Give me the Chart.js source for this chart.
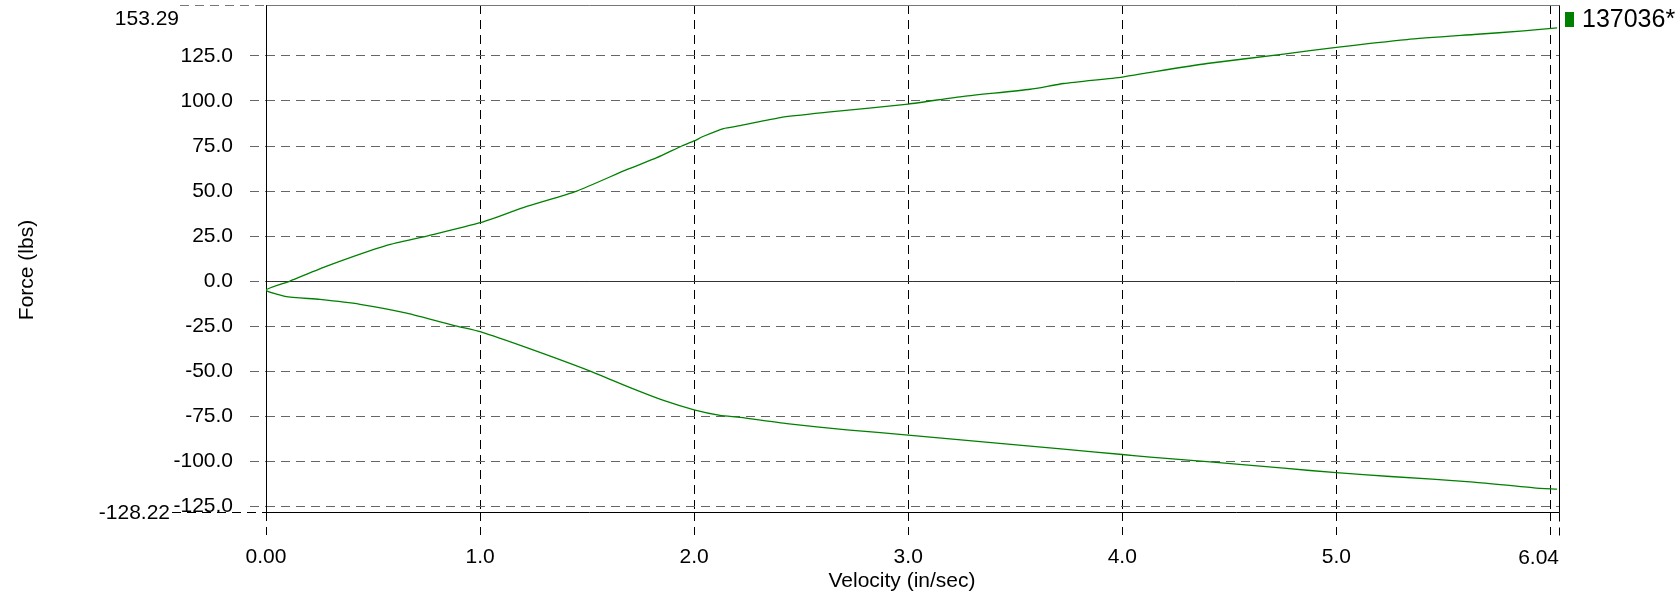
<!DOCTYPE html>
<html>
<head>
<meta charset="utf-8">
<script src="https://cdn.jsdelivr.net/npm/chart.js@4/dist/chart.umd.min.js"></script>
<style>
html,body{margin:0;padding:0;background:#fff;}
#wrap{width:1680px;height:595px;}
</style>
</head>
<body>
<div id="wrap"><canvas id="c" width="1680" height="595"></canvas></div>
<script>
// ---- data ----
const seriesName = "137036*";
const velocity = [
  6.031, 5.923, 5.642, 5.252, 5.0, 4.754, 4.396, 4.131, 4.0, 3.726, 3.414, 3.0, 2.713, 2.433,
  2.215, 2.121, 2.0, 1.857, 1.701, 1.514, 1.218, 1.0, 0.891, 0.657, 0.439, 0.252, 0.089, 0.0,
  0.112, 0.284, 0.564, 0.751, 1.0, 1.218, 1.452, 1.685, 1.826, 1.942, 2.0, 2.044, 2.137, 2.215,
  2.402, 2.636, 3.0, 3.259, 3.570, 3.726, 4.0, 4.131, 4.396, 4.754, 5.0, 5.330, 5.642, 5.875, 6.031
];
const force = [
  -115.5, -114.8, -111.6, -108.5, -106.4, -103.9, -100.3, -97.8, -96.3, -93.3, -90.0, -85.5, -82.6, -79.2,
  -75.7, -74.6, -71.5, -66.3, -59.2, -50.0, -37.0, -28.1, -25.0, -17.8, -12.9, -10.2, -8.5, -5.0,
  0.0, 8.3, 19.8, 25.0, 32.4, 41.5, 50.0, 61.9, 68.5, 75.0, 77.8, 80.4, 84.7, 86.3,
  90.8, 93.9, 98.3, 102.6, 106.5, 109.7, 113.3, 115.9, 120.8, 126.0, 129.8, 134.1, 136.9, 138.9, 140.6
];
const xMin = 0, xMax = 6.04;
const yMin = -128.22, yMax = 153.29;
const xTicks = [0, 1, 2, 3, 4, 5, 6];
const xTickLabels = ["0.00", "1.0", "2.0", "3.0", "4.0", "5.0", ""];
const xEndLabel = "6.04";
const yTicks = [-125, -100, -75, -50, -25, 0, 25, 50, 75, 100, 125];
const yTickLabels = ["-125.0", "-100.0", "-75.0", "-50.0", "-25.0", "0.0", "25.0", "50.0", "75.0", "100.0", "125.0"];
const yMaxLabel = "153.29", yMinLabel = "-128.22";
const xTitle = "Velocity (in/sec)";
const yTitle = "Force (lbs)";
const lineColor = "#008000";

const FONT = "'Liberation Sans', Arial, sans-serif";

const points = velocity.map((v, i) => ({x: v, y: force[i]}));

const extras = {
  id: 'extras',
  beforeDatasetsDraw(chart) {
    const {ctx, chartArea: a, scales: {x, y}} = chart;
    ctx.save();
    // zero line (solid)
    const y0 = Math.round(y.getPixelForValue(0)) + 0.5;
    ctx.strokeStyle = '#333'; ctx.lineWidth = 1; ctx.setLineDash([]);
    ctx.beginPath(); ctx.moveTo(a.left, y0); ctx.lineTo(a.right, y0); ctx.stroke();
    // frame
    const l = Math.round(a.left) + 0.5, r = Math.round(x.getPixelForValue(xMax)) + 0.5;
    const t = Math.round(y.getPixelForValue(yMax)) + 0.5, b = Math.round(y.getPixelForValue(yMin)) + 0.5;
    ctx.strokeStyle = '#777';
    ctx.beginPath(); ctx.moveTo(l, t); ctx.lineTo(r, t); ctx.stroke();
    ctx.strokeStyle = '#000';
    ctx.beginPath(); ctx.moveTo(l, t); ctx.lineTo(l, b); ctx.lineTo(r, b); ctx.lineTo(r, t); ctx.stroke();
    // extended dashed lines for axis limits
    ctx.setLineDash([9, 6]);
    ctx.strokeStyle = '#777';
    ctx.beginPath(); ctx.moveTo(180, t); ctx.lineTo(l, t); ctx.stroke();
    ctx.strokeStyle = '#000';
    ctx.beginPath(); ctx.moveTo(172, b); ctx.lineTo(l, b); ctx.stroke();
    ctx.beginPath(); ctx.moveTo(r, b); ctx.lineTo(r, b + 23); ctx.stroke();
    ctx.setLineDash([]);
    // limit labels
    ctx.fillStyle = '#000';
    ctx.font = '21px ' + FONT;
    ctx.textBaseline = 'middle';
    ctx.textAlign = 'right';
    ctx.fillText(yMaxLabel, 179, y.getPixelForValue(yMax) + 14);
    ctx.fillText(yMinLabel, 170, y.getPixelForValue(yMin) + 1);
    ctx.fillText(xEndLabel, x.getPixelForValue(xMax), 558);
    // axis titles
    ctx.textAlign = 'center';
    ctx.textBaseline = 'alphabetic';
    ctx.fillText(xTitle, 902, 587);
    ctx.save();
    ctx.translate(33, 270);
    ctx.rotate(-Math.PI / 2);
    ctx.fillText(yTitle, 0, 0);
    ctx.restore();
    // legend
    ctx.fillStyle = lineColor;
    ctx.fillRect(1565, 12, 9, 15);
    ctx.fillStyle = '#000';
    ctx.font = '25px ' + FONT;
    ctx.textAlign = 'left';
    ctx.textBaseline = 'middle';
    ctx.fillText(seriesName, 1582, 20);
    ctx.restore();
  }
};

new Chart(document.getElementById('c'), {
  type: 'scatter',
  data: {
    datasets: [{
      label: seriesName,
      data: points,
      showLine: true,
      borderColor: lineColor,
      backgroundColor: lineColor,
      borderWidth: 1.3,
      pointRadius: 0,
      tension: 0.2
    }]
  },
  options: {
    responsive: false,
    animation: false,
    layout: {padding: {top: 5, right: 121, bottom: 0, left: 0}},
    plugins: {legend: {display: false}, tooltip: {enabled: false}},
    scales: {
      x: {
        type: 'linear', min: xMin, max: xMax,
        afterBuildTicks(s) { s.ticks = xTicks.map(v => ({value: v})); },
        afterFit(s) { s.height = 83; s.paddingLeft = 0; s.paddingRight = 0; },
        ticks: {
          autoSkip: false, maxRotation: 0, padding: 10, color: '#000',
          font: {family: FONT, size: 21},
          callback: (v, i) => xTickLabels[i]
        },
        grid: {color: '#000', lineWidth: 1, tickLength: 23, tickColor: '#000', tickBorderDash: [9, 6]},
        border: {display: false, dash: [9, 6]}
      },
      y: {
        type: 'linear', min: yMin, max: yMax,
        afterBuildTicks(s) { s.ticks = yTicks.map(v => ({value: v})); },
        afterFit(s) { s.width = 266; s.paddingTop = 0; s.paddingBottom = 0; },
        ticks: {
          autoSkip: false, padding: 17, color: '#000',
          font: {family: FONT, size: 21},
          callback: (v, i) => yTickLabels[i]
        },
        grid: {color: '#666', lineWidth: 1, tickLength: 16, tickColor: '#666', tickBorderDash: [9, 6]},
        border: {display: false, dash: [9, 6]}
      }
    }
  },
  plugins: [extras]
});
</script>
</body>
</html>
